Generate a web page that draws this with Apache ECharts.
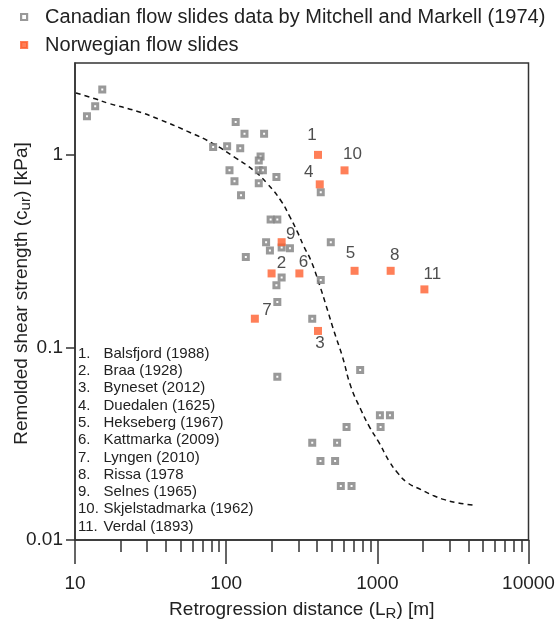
<!DOCTYPE html>
<html><head><meta charset="utf-8">
<script src="https://cdn.jsdelivr.net/npm/echarts@6/dist/echarts.min.js"></script>
<style>html,body{margin:0;padding:0;background:#fff}#c{width:559px;height:626px}</style>
</head><body><div id="c"></div>
<script>
// ---- data ----
const canadianX = [12.0, 13.6, 15.15, 82.0, 101.5, 115.6, 123.9, 132.2, 178.2, 168.9, 164.3, 164.3, 175.0, 105.2, 215.0, 113.5, 164.3, 125.4, 422.4, 196.8, 218.0, 183.7, 194.7, 232.8, 264.2, 492.2, 134.9, 232.8, 215.0, 218.0, 371, 422.4, 218.0, 769.9, 1040, 1212, 1051, 625.7, 371, 541.9, 420.5, 525.6, 573.5, 675.2];
const canadianY = [1.587, 1.790, 2.185, 1.10, 1.11, 1.483, 1.081, 1.288, 1.288, 0.982, 0.936, 0.831, 0.831, 0.831, 0.767, 0.729, 0.712, 0.617, 0.639, 0.462, 0.462, 0.352, 0.319, 0.330, 0.327, 0.352, 0.295, 0.2305, 0.2103, 0.1721, 0.141, 0.2238, 0.0704, 0.0764, 0.0445, 0.0445, 0.0386, 0.0386, 0.0320, 0.0320, 0.0257, 0.0257, 0.0191, 0.0191];

const norwegianIds = ['1', '2', '3', '4', '5', '6', '7', '8', '9', '10', '11'];
const norwegianX = [405, 199.7, 405, 416, 707, 305, 154.8, 1225, 232.8, 606.7, 2048];
const norwegianY = [1.0, 0.2423, 0.1218, 0.703, 0.250, 0.2423, 0.141, 0.250, 0.352, 0.831, 0.2002];
const slideNames = ['Balsfjord (1988)', 'Braa (1928)', 'Byneset (2012)', 'Duedalen (1625)', 'Hekseberg (1967)', 'Kattmarka (2009)', 'Lyngen (2010)', 'Rissa (1978', 'Selnes (1965)', 'Skjelstadmarka (1962)', 'Verdal (1893)'];

const trendX = [10.15, 13.6, 16.56, 25.67, 36.65, 55.1, 80.7, 115.3, 151.8, 187.1, 229.2, 264.2, 295.9, 327.3, 362.6, 411.6, 468, 517.6, 588.6, 668, 778.3, 883.6, 1029, 1200, 1364, 1589, 1947, 2328, 2780, 3411, 4395];
const trendY = [2.096, 1.955, 1.855, 1.686, 1.522, 1.328, 1.151, 0.965, 0.831, 0.709, 0.581, 0.476, 0.398, 0.333, 0.284, 0.215, 0.1564, 0.121, 0.0893, 0.0626, 0.0475, 0.0389, 0.0319, 0.0256, 0.0223, 0.0198, 0.01827, 0.01706, 0.0162, 0.01559, 0.01515];

const xMajor = [10, 100, 1000, 10000];
const xMinor = [20, 30, 40, 50, 60, 70, 80, 90, 200, 300, 400, 500, 600, 700, 800, 900, 2000, 3000, 4000, 5000, 6000, 7000, 8000, 9000];
const yMajor = [0.01, 0.1, 1];
const yLabels = ['0.01', '0.1', '1'];

const legendNames = ['Canadian flow slides data by Mitchell and Markell (1974)', 'Norwegian flow slides'];

// ---- styles (not data) ----
const labelOffsets = [[-6, -20], [10, -10], [2, 12], [-11, -12], [-4, -17], [4, -11], [12, -8], [4, -15], [9, -8], [8, -16], [8, -15]];
const FONT = 'Liberation Sans, Arial, Helvetica, sans-serif';
const INK = '#222';
const GREY = '#808080';
const ORANGE = '#ff5f2e';

const chart = echarts.init(document.getElementById('c'));

const fmtY = v => {
  let best = 0, d = Infinity;
  yMajor.forEach((m, i) => { const e = Math.abs(Math.log10(v) - Math.log10(m)); if (e < d) { d = e; best = i; } });
  return yLabels[best];
};

const listText = slideNames.map((n, i) => '{n|' + (i + 1) + '.}{t|' + n + '}').join('\n');

const option = {
  animation: false,
  textStyle: { fontFamily: FONT },
  grid: { left: 75, right: 30.5, top: 63, bottom: 86, show: true, borderColor: '#333', borderWidth: 1.5, backgroundColor: 'transparent', containLabel: false, outerBoundsMode: 'none' },
  legend: {
    orient: 'vertical', left: 20, top: 7, padding: 0, itemGap: 8,
    itemWidth: 6, itemHeight: 6, selectedMode: false,
    data: [
      { name: legendNames[0], itemStyle: { color: '#fff', borderColor: GREY, borderWidth: 2.2 } },
      { name: legendNames[1], itemStyle: { color: ORANGE, borderColor: ORANGE, borderWidth: 2.2 } }
    ],
    textStyle: { fontSize: 20, color: INK, fontFamily: FONT, padding: [0, 0, 0, 13] }
  },
  xAxis: [
    {
      type: 'log', logBase: 10, min: 10, max: 10000, position: 'bottom',
      axisLine: { show: true, lineStyle: { color: '#333', width: 1.5 } },
      axisTick: { show: true, inside: false, length: 24, customValues: xMajor, lineStyle: { color: '#333', width: 1.5 } },
      axisLabel: { show: true, customValues: xMajor, fontSize: 19, color: INK, margin: 34, formatter: v => String(Math.round(v)) },
      splitLine: { show: false },
      name: '{a|Retrogression distance (L}{s|R}{a|) [m]}',
      nameLocation: 'middle', nameGap: 58, nameMoveOverlap: false,
      nameTextStyle: { rich: { a: { fontSize: 19, color: INK, fontFamily: FONT }, s: { fontSize: 15, color: INK, fontFamily: FONT, padding: [8, 0, 0, 0] } } }
    },
    {
      type: 'log', logBase: 10, min: 10, max: 10000, position: 'bottom', gridIndex: 0,
      axisLine: { show: false },
      axisTick: { show: true, inside: false, length: 12, customValues: xMinor, lineStyle: { color: '#333', width: 1.5 } },
      axisLabel: { show: false },
      splitLine: { show: false }
    }
  ],
  yAxis: {
    type: 'log', logBase: 10, min: 0.01, max: 3,
    axisLine: { show: true, lineStyle: { color: '#333', width: 1.5 } },
    axisTick: { show: true, inside: false, length: 9, customValues: yMajor, lineStyle: { color: '#333', width: 1.5 } },
    axisLabel: { show: true, customValues: yMajor, fontSize: 19, color: INK, margin: 12, formatter: fmtY },
    splitLine: { show: false },
    name: '{a|Remolded shear strength (c}{s|ur}{a|) [kPa]}',
    nameLocation: 'middle', nameGap: 42, nameRotate: 90, nameMoveOverlap: false,
    nameTextStyle: { padding: [0, 0, 0, 16], rich: { a: { fontSize: 19, color: INK, fontFamily: FONT }, s: { fontSize: 15, color: INK, fontFamily: FONT, padding: [8, 0, 0, 0] } } }
  },
  series: [
    {
      name: legendNames[0], type: 'scatter', xAxisIndex: 0, symbol: 'rect', symbolSize: 5, z: 3,
      itemStyle: { color: '#fff', borderColor: GREY, borderWidth: 3 },
      emphasis: { disabled: true },
      data: canadianX.map((x, i) => [x, canadianY[i]])
    },
    {
      name: legendNames[1], type: 'scatter', xAxisIndex: 0, symbol: 'rect', symbolSize: 8, z: 4,
      itemStyle: { color: ORANGE },
      emphasis: { disabled: true },
      label: { show: true, position: 'inside', fontSize: 17, color: INK, fontFamily: FONT, formatter: p => p.data.id },
      data: norwegianX.map((x, i) => ({ value: [x, norwegianY[i]], id: norwegianIds[i], label: { offset: labelOffsets[i] } }))
    },
    {
      name: 'trend', type: 'line', xAxisIndex: 0, smooth: true, showSymbol: false, symbol: 'none', z: 2,
      lineStyle: { type: [5, 4], color: '#111', width: 1.5 },
      emphasis: { disabled: true },
      data: trendX.map((x, i) => [x, trendY[i]])
    }
  ],
  graphic: [{
    type: 'text', left: 78, top: 345, z: 10,
    style: {
      text: listText, fill: INK, font: '15px ' + FONT, lineHeight: 17.3,
      rich: {
        n: { width: 25.5, fontSize: 15, fontFamily: FONT, lineHeight: 17.3, fill: INK },
        t: { fontSize: 15, fontFamily: FONT, lineHeight: 17.3, fill: INK }
      }
    }
  }]
};
chart.setOption(option);
</script></body></html>
